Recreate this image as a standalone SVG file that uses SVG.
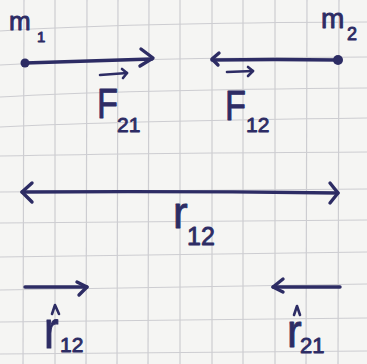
<svg xmlns="http://www.w3.org/2000/svg" width="367" height="364" viewBox="0 0 367 364">
  <defs>
    <style>
      .bg { fill: #f5f5f3; }
      .grid { fill: none; stroke: #cdcdd1; stroke-width: 1.2; }
      .ink { fill: none; stroke: #2d2c64; stroke-width: 3.4; stroke-linecap: round; stroke-linejoin: round; }
      .thin { fill: none; stroke: #2d2c64; stroke-width: 2.6; stroke-linecap: round; stroke-linejoin: round; }
      .dot { fill: #2d2c64; }
      .lbl { fill: #2d2c64; stroke: #2d2c64; stroke-width: 0.9; stroke-linejoin: round; font-family: "Liberation Sans", Arial, sans-serif; }
    </style>
  </defs>

  <rect class="bg" x="0" y="0" width="367" height="364"/>

  <g id="grid" class="grid">
    <path d="M24,0 L23,364"/>
    <path d="M55,0 L55,364"/>
    <path d="M87,0 L86,364"/>
    <path d="M118,0 L117,364"/>
    <path d="M149,0 L148,364"/>
    <path d="M180,0 L180,364"/>
    <path d="M212,0 L212,364"/>
    <path d="M243,0 L243,364"/>
    <path d="M275,0 L275,364"/>
    <path d="M307,0 L306,364"/>
    <path d="M339,0 L338,364"/>
    <path d="M0,31 Q120,23 367,22"/>
    <path d="M0,65 Q120,58 367,57"/>
    <path d="M0,97 Q120,90 367,88"/>
    <path d="M0,127 Q120,121 367,118"/>
    <path d="M0,156 Q150,153 367,152"/>
    <path d="M0,192 Q180,190 367,189"/>
    <path d="M0,223 Q180,221 367,220"/>
    <path d="M0,257 Q180,254 367,252"/>
    <path d="M0,290 Q180,287 367,284"/>
    <path d="M0,322 Q180,320 367,318"/>
    <path d="M0,354 Q180,352 367,351"/>
  </g>

  <g id="connectors">
    <g id="arrow-F21">
      <path class="ink" d="M25,63 Q90,61 152,59"/>
      <path class="ink" d="M141,49 L153,58 L140,66"/>
    </g>
    <g id="arrow-F12">
      <path class="ink" d="M338,60 Q275,59 212,60"/>
      <path class="ink" d="M219,53 L212,59 L218,65"/>
    </g>
    <g id="arrow-r12">
      <path class="ink" d="M22,192 Q180,191 338,193"/>
      <path class="ink" d="M32,183 L22,192 L32,202"/>
      <path class="ink" d="M330,183 L338,193 L330,203"/>
    </g>
    <g id="arrow-r12hat">
      <path class="ink" d="M25,287 L87,287"/>
      <path class="ink" d="M77,282 L87,287 L79,295"/>
    </g>
    <g id="arrow-r21hat">
      <path class="ink" d="M340,287 L273,287"/>
      <path class="ink" d="M283,279 L273,287 L283,292"/>
    </g>
  </g>

  <g id="m1">
    <circle class="dot" cx="25" cy="63" r="4.5"/>
    <text class="lbl" x="9" y="30" font-size="26">m</text>
    <text class="lbl" x="37" y="42" font-size="15">1</text>
  </g>

  <g id="m2">
    <circle class="dot" cx="338" cy="60" r="5"/>
    <text class="lbl" x="321" y="28" font-size="28">m</text>
    <text class="lbl" x="347" y="40" font-size="18">2</text>
  </g>

  <g id="label-F21">
    <path class="thin" d="M100,75 L127,73"/>
    <path class="thin" d="M122,69 L127,73 L123,78"/>
    <text class="lbl" transform="translate(97,118) scale(0.8,1)" font-size="43">F</text>
    <text class="lbl" x="117" y="132" font-size="21">21</text>
  </g>

  <g id="label-F12">
    <path class="thin" d="M227,72 L253,71"/>
    <path class="thin" d="M248,67 L253,71 L248,76"/>
    <text class="lbl" transform="translate(225,120) scale(0.8,1)" font-size="43">F</text>
    <text class="lbl" x="246" y="132" font-size="21">12</text>
  </g>

  <g id="label-r12">
    <text class="lbl" x="173" y="228" font-size="44">r</text>
    <text class="lbl" x="187" y="245" font-size="25">12</text>
  </g>

  <g id="label-r12hat">
    <path class="thin" d="M52,314 L55,305 L59,314"/>
    <text class="lbl" transform="translate(44,348) scale(1,1.2)" font-size="44">r</text>
    <text class="lbl" x="60" y="352" font-size="21">12</text>
  </g>

  <g id="label-r21hat">
    <path class="thin" d="M294,315 L297,306 L300,315"/>
    <text class="lbl" transform="translate(287,347) scale(1,1.05)" font-size="44">r</text>
    <text class="lbl" x="300" y="353" font-size="22">21</text>
  </g>
</svg>
